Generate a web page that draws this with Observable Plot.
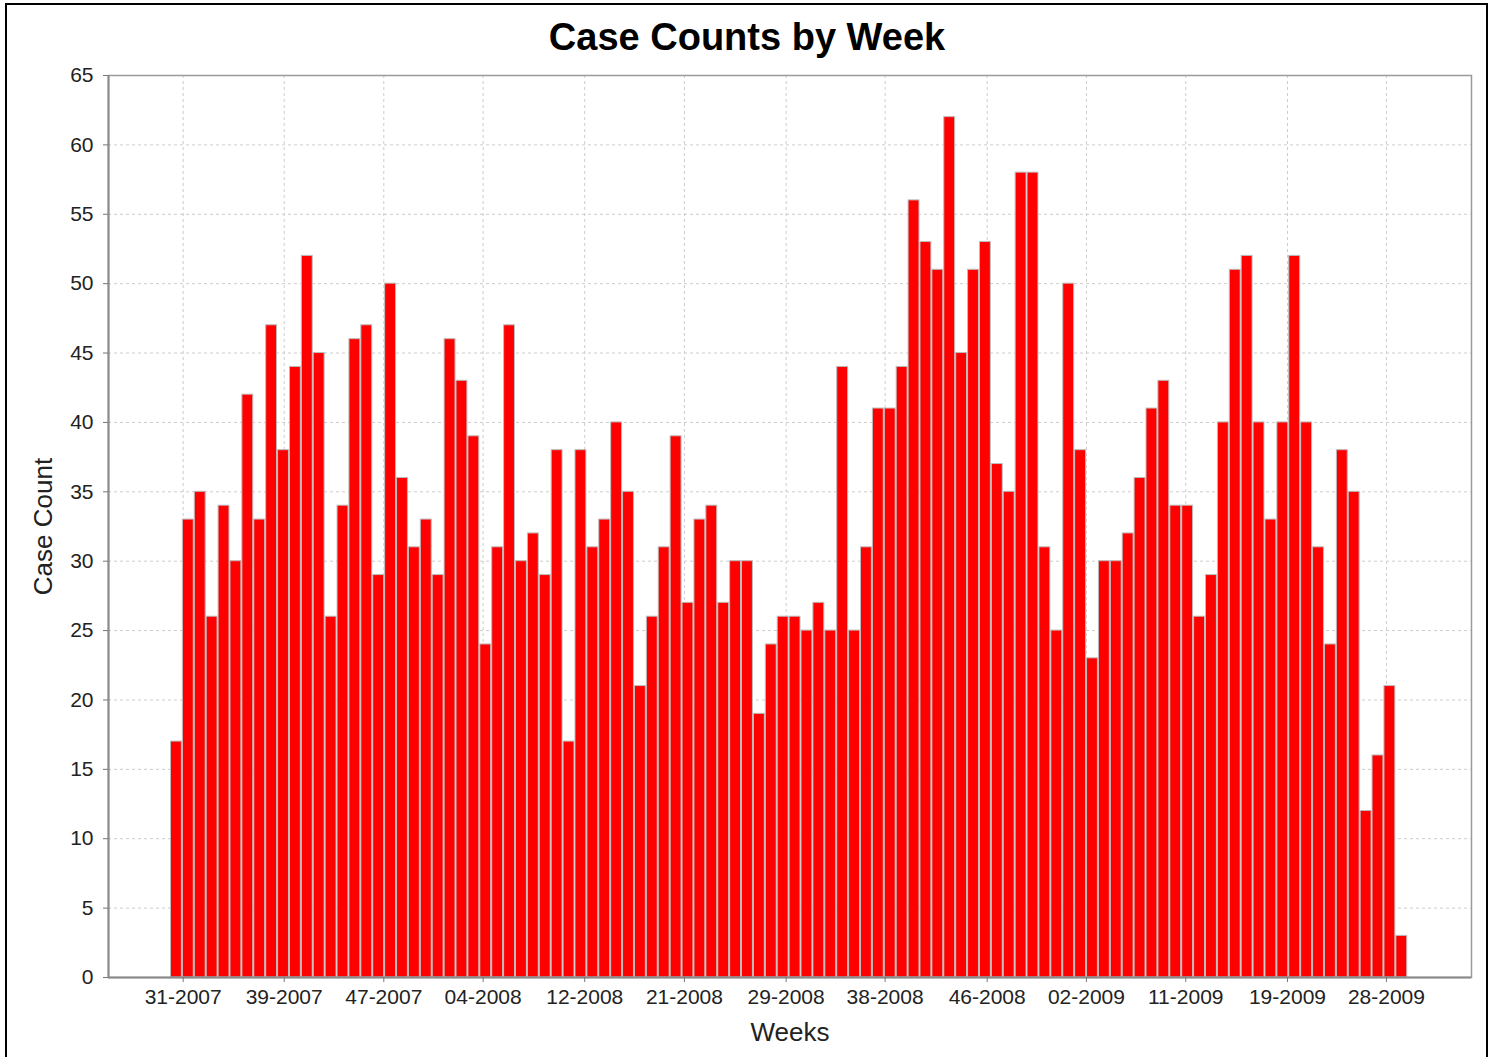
<!DOCTYPE html>
<html>
<head>
<meta charset="utf-8">
<script src="https://cdn.jsdelivr.net/npm/d3@7"></script>
<script src="https://cdn.jsdelivr.net/npm/@observablehq/plot@0.6"></script>
<style>
  html, body { margin: 0; padding: 0; background: #fff; }
  #page { position: relative; width: 1494px; height: 1057px; overflow: hidden; background: #fff; font-family: "Liberation Sans", Arial, sans-serif; }
  #frame { position: absolute; left: 5px; top: 3px; width: 1483px; height: 1100px; border: 2px solid #000; box-sizing: border-box; }
  #title { position: absolute; left: 0; top: 18px; width: 1494px; text-align: center; font: bold 38px/38px "Liberation Sans", Arial, sans-serif; color: #000; }
  #chart { position: absolute; left: 0; top: 0; }
</style>
</head>
<body>
<div id="page">
  <div id="frame"></div>
  <div id="chart"></div>
  <div id="title">Case Counts by Week</div>
</div>
<script>
// Weekly case counts, one bar per week (104 weeks)
const caseCounts = [
  17, 33, 35, 26, 34, 30, 42, 33, 47, 38, 44, 52, 45, 26, 34, 46, 47, 29, 50, 36,
  31, 33, 29, 46, 43, 39, 24, 31, 47, 30, 32, 29, 38, 17, 38, 31, 33, 40, 35, 21,
  26, 31, 39, 27, 33, 34, 27, 30, 30, 19, 24, 26, 26, 25, 27, 25, 44, 25, 31, 41,
  41, 44, 56, 53, 51, 62, 45, 51, 53, 37, 35, 58, 58, 31, 25, 50, 38, 23, 30, 30,
  32, 36, 41, 43, 34, 34, 26, 29, 40, 51, 52, 40, 33, 40, 52, 40, 31, 24, 38, 35,
  12, 16, 21, 3
];
// x axis: positions in week-index units (bar i spans i..i+1)
const xTickPositions = [1.067, 9.557, 17.93, 26.28, 34.82, 43.20, 51.75, 60.07, 68.65, 76.99, 85.34, 93.89, 102.21];
const xTickLabels = ["31-2007", "39-2007", "47-2007", "04-2008", "12-2008", "21-2008", "29-2008", "38-2008", "46-2008", "02-2009", "11-2009", "19-2009", "28-2009"];
const xDomain = [-5.211, 109.36];
const yTicks = [0, 5, 10, 15, 20, 25, 30, 35, 40, 45, 50, 55, 60, 65];
const yDomain = [0, 65];

const bars = caseCounts.map((v, i) => ({x1: i, x2: i + 1, count: v}));
const labelOf = new Map(xTickPositions.map((p, i) => [p, xTickLabels[i]]));

const grid = {stroke: "#cccccc", strokeOpacity: 1, strokeDasharray: "3,3", strokeWidth: 1};

const chart = Plot.plot({
  width: 1494,
  height: 1057,
  marginLeft: 108,
  marginRight: 23,
  marginTop: 75,
  marginBottom: 80,
  style: {fontFamily: "Liberation Sans, Arial, sans-serif", fontSize: "21px", color: "#222", background: "transparent"},
  x: {type: "linear", domain: xDomain},
  y: {domain: yDomain},
  marks: [
    Plot.frame({fill: "#fff", stroke: "none"}),
    Plot.gridX(xTickPositions, grid),
    Plot.gridY(yTicks, grid),
    Plot.rectY(bars, {x1: "x1", x2: "x2", y: "count", fill: "#ff0000", stroke: "#bdbdbd", strokeWidth: 1, insetLeft: 0.5, insetRight: 0.5}),
    Plot.frame({stroke: "#9a9a9a", strokeWidth: 1.5}),
    Plot.ruleY([0], {stroke: "#8a8a8a", strokeWidth: 2}),
    Plot.ruleX([xDomain[0]], {stroke: "#8a8a8a", strokeWidth: 2}),
    Plot.axisY(yTicks, {tickSize: 5, tickPadding: 10, stroke: "#777", fill: "#222", fontSize: 21, label: null}),
    Plot.axisX(xTickPositions, {tickSize: 5, tickPadding: 7, stroke: "#777", fill: "#222", fontSize: 21, label: null, tickFormat: d => labelOf.get(d)}),
    Plot.text(["Case Count"], {frameAnchor: "left", textAnchor: "middle", dx: -65, rotate: -90, fontSize: 26, fill: "#222"}),
    Plot.text(["Weeks"], {frameAnchor: "bottom", textAnchor: "middle", dy: 63, fontSize: 26, fill: "#222"})
  ]
});
document.getElementById("chart").appendChild(chart);
</script>
</body>
</html>
